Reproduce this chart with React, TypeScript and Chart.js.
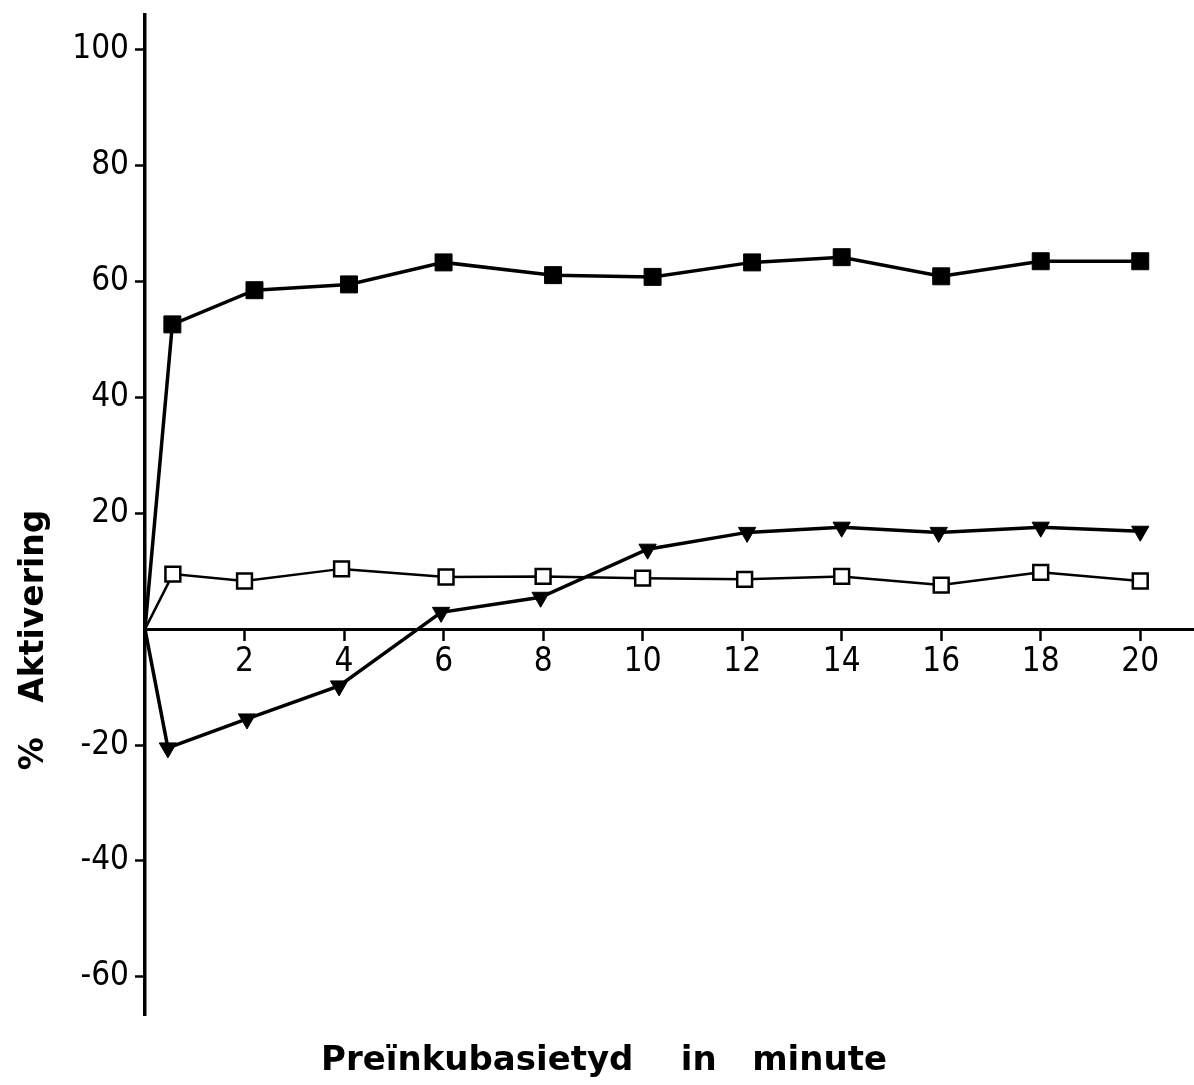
import React, { useEffect, useRef } from 'react';
import { Chart, registerables } from 'chart.js';

Chart.register(...registerables);

// Preïnkubasietyd (minute) and % Aktivering per series
const filledX = [0, 0.55, 2.2, 4.1, 6.0, 8.2, 10.2, 12.2, 14.0, 16.0, 18.0, 20.0];
const filledY = [0, 52.6, 58.5, 59.5, 63.3, 61.1, 60.8, 63.3, 64.2, 60.9, 63.5, 63.5];

const openX = [0, 0.56, 2.0, 3.95, 6.05, 8.0, 10.0, 12.05, 14.0, 16.0, 18.0, 20.0];
const openY = [0, 9.5, 8.3, 10.4, 9.0, 9.1, 8.8, 8.6, 9.1, 7.6, 9.8, 8.3];

const triX = [0, 0.46, 2.05, 3.9, 5.95, 7.95, 10.1, 12.1, 14.0, 15.95, 18.0, 20.0];
const triY = [0, -20.5, -15.5, -9.8, 2.9, 5.5, 13.8, 16.7, 17.6, 16.7, 17.6, 16.9];

const xTicks = [2, 4, 6, 8, 10, 12, 14, 16, 18, 20];
const yTicks = [-60, -40, -20, 20, 40, 60, 80, 100];

const xTitle = 'Preïnkubasietyd    in   minute';
const yTitle = '%   Aktivering';

const tickFont = "'Liberation Sans Narrow', 'DejaVu Sans Condensed', 'Liberation Sans', sans-serif";

const toPoints = (xs: number[], ys: number[]) => xs.map((x, i) => ({ x, y: ys[i] }));

const titlePlugin = {
  id: 'customTitles',
  afterDraw(chart: any) {
    const ctx = chart.ctx as CanvasRenderingContext2D;
    ctx.save();
    ctx.fillStyle = '#000';
    ctx.font = "bold 34px 'DejaVu Sans', 'Liberation Sans', sans-serif";
    ctx.textAlign = 'center';
    ctx.textBaseline = 'middle';
    ctx.fillText(xTitle, 604, 1061);
    ctx.font = "bold 33px 'DejaVu Sans', 'Liberation Sans', sans-serif";
    ctx.translate(34, 640);
    ctx.rotate(-Math.PI / 2);
    ctx.fillText(yTitle, 0, 0);
    ctx.restore();
  },
};

export default function App() {
  const ref = useRef<HTMLCanvasElement | null>(null);

  useEffect(() => {
    if (!ref.current) return;
    const common = {
      showLine: true,
      borderColor: '#000',
      pointBorderColor: '#000',
      clip: false as any,
    };
    const chart = new Chart(ref.current, {
      type: 'scatter',
      data: {
        datasets: [
          {
            ...common,
            data: toPoints(filledX, filledY),
            borderWidth: 3.5,
            pointStyle: 'rect',
            pointRadius: (c: any) => (c.dataIndex === 0 ? 0 : 12),
            pointBackgroundColor: '#000',
            pointBorderWidth: 1,
          },
          {
            ...common,
            data: toPoints(openX, openY),
            borderWidth: 2.5,
            pointStyle: 'rect',
            pointRadius: (c: any) => (c.dataIndex === 0 ? 0 : 10.5),
            pointBackgroundColor: '#fff',
            pointBorderWidth: 2.5,
          },
          {
            ...common,
            data: toPoints(triX, triY),
            borderWidth: 3.5,
            pointStyle: 'triangle',
            pointRotation: 180,
            pointRadius: (c: any) => (c.dataIndex === 0 ? 0 : 10),
            pointBackgroundColor: '#000',
            pointBorderWidth: 1,
          },
        ] as any,
      },
      options: {
        animation: false,
        responsive: false,
        maintainAspectRatio: false,
        events: [],
        layout: { autoPadding: false, padding: { top: 15, right: 0, bottom: 70, left: 0 } },
        plugins: {
          legend: { display: false },
          tooltip: { enabled: false },
          title: { display: false },
        },
        scales: {
          x: {
            type: 'linear',
            position: { y: 0 } as any,
            min: 0,
            max: 21.08,
            afterBuildTicks: (s: any) => {
              s.ticks = xTicks.map((v) => ({ value: v }));
            },
            afterFit: (s: any) => {
              s.paddingLeft = 0;
              s.paddingRight = 0;
            },
            grid: {
              drawOnChartArea: false,
              drawTicks: true,
              tickLength: 10,
              tickWidth: 2.5,
              color: '#000',
            },
            border: { display: true, color: '#000', width: 3 },
            ticks: {
              color: '#000',
              font: { family: tickFont, size: 33 },
              padding: 3,
              maxRotation: 0,
              autoSkip: false,
            },
          },
          y: {
            type: 'linear',
            position: 'left',
            min: -66.6,
            max: 106,
            afterBuildTicks: (s: any) => {
              s.ticks = yTicks.map((v) => ({ value: v }));
            },
            afterFit: (s: any) => {
              s.width = 145;
              s.paddingTop = 0;
              s.paddingBottom = 0;
            },
            grid: {
              drawOnChartArea: false,
              drawTicks: true,
              tickLength: 10,
              tickWidth: 2.5,
              color: '#000',
            },
            border: { display: true, color: '#000', width: 3.5 },
            ticks: {
              color: '#000',
              font: { family: tickFont, size: 33 },
              padding: 6,
              autoSkip: false,
            },
          },
        },
      } as any,
      plugins: [titlePlugin],
    });
    return () => chart.destroy();
  }, []);

  return (
    <div style={{ position: 'absolute', left: 0, top: 0, width: 1194, height: 1085, background: '#fff' }}>
      <canvas ref={ref} width={1194} height={1085} style={{ display: 'block', width: 1194, height: 1085 }} />
    </div>
  );
}
